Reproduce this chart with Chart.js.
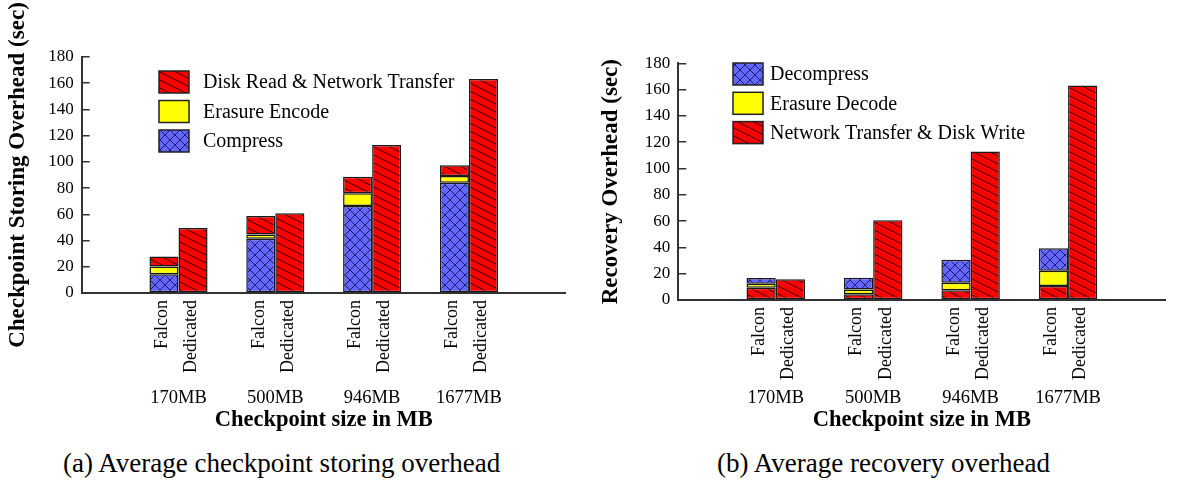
<!DOCTYPE html>
<html>
<head>
<meta charset="utf-8">
<script src="https://cdn.jsdelivr.net/npm/chart.js@4.4.1/dist/chart.umd.min.js"></script>
<style>
  body { margin: 0; background: #fff; width: 1181px; height: 484px; position: relative; overflow: hidden; font-family: "Liberation Serif", serif; }
  #leftChart { position: absolute; left: 0; top: 0; }
  #rightChart { position: absolute; left: 590px; top: 0; }
  .caption { position: absolute; top: 447px; font-size: 27px; line-height: 32px; white-space: nowrap; color: #000; }
</style>
</head>
<body>
<canvas id="leftChart" width="590" height="445"></canvas>
<canvas id="rightChart" width="591" height="445"></canvas>
<div class="caption" style="left:63px">(a) Average checkpoint storing overhead</div>
<div class="caption" style="left:717px">(b) Average recovery overhead</div>
<script>
// categorias
const sizes = ['170MB', '500MB', '946MB', '1677MB'];
const systems = ['Falcon', 'Dedicated'];
const yMax = 180;
const yStep = 20;

// (a) storing overhead, seconds
const storeCompress = [14.3, 41.4, 66.4, 84.1];
const storeEncode = [6.0, 3.3, 9.6, 5.1];
const storeTransfer = [7.6, 14.0, 12.7, 8.2];
const storeDedicated = [49.6, 60.8, 112.9, 163.2];

// (b) recovery overhead, seconds
const recTransfer = [9.4, 4.3, 7.4, 10.7];
const recDecode = [3.0, 3.6, 5.8, 11.6];
const recDecompress = [4.4, 9.1, 17.5, 17.1];
const recDedicated = [15.7, 60.7, 112.9, 163.2];

const FONT = '"Liberation Serif", "Times New Roman", serif';
Chart.defaults.font.family = FONT;
Chart.defaults.color = '#000';

// padrões de preenchimento (estilo gnuplot)
function redHatch() {
    const c = document.createElement('canvas');
    c.width = 16; c.height = 8;
    const g = c.getContext('2d');
    g.fillStyle = '#ff0000';
    g.fillRect(0, 0, 16, 8);
    g.strokeStyle = '#300000';
    g.lineWidth = 1;
    g.beginPath();
    for (const k of [-8, 0, 8]) {
        g.moveTo(-2, -1 + k);
        g.lineTo(18, 9 + k);
    }
    g.stroke();
    return g.createPattern(c, 'repeat');
}

function blueCross() {
    const c = document.createElement('canvas');
    c.width = 10; c.height = 10;
    const g = c.getContext('2d');
    g.fillStyle = '#6565ff';
    g.fillRect(0, 0, 10, 10);
    g.strokeStyle = '#1c1c70';
    g.lineWidth = 1;
    g.beginPath();
    g.moveTo(-1, -1); g.lineTo(11, 11);
    g.moveTo(11, -1); g.lineTo(-1, 11);
    g.stroke();
    return g.createPattern(c, 'repeat');
}

const RED = redHatch();
const BLUE = blueCross();
const YELLOW = '#ffff00';

function pts(values) {
    return values.map((v, i) => ({ x: i + 1, y: v }));
}

function barSet(label, values, fill, stack) {
    return {
        label: label,
        data: pts(values),
        backgroundColor: fill,
        borderColor: '#1a1a1a',
        borderWidth: 1.5,
        borderSkipped: false,
        stack: stack,
        categoryPercentage: 0.6,
        barPercentage: 1.0
    };
}

// legenda dentro da área do gráfico
const boxLegend = {
    id: 'boxLegend',
    afterDraw(chart, args, opts) {
        const ctx = chart.ctx;
        ctx.save();
        ctx.font = '20px ' + FONT;
        ctx.textBaseline = 'middle';
        const items = chart.data.datasets.filter(d => d.stack === 'Falcon').reverse();
        items.forEach((d, i) => {
            const y = opts.y + i * opts.step;
            ctx.fillStyle = d.backgroundColor;
            ctx.fillRect(opts.x, y, 30, 22);
            ctx.strokeStyle = '#222';
            ctx.lineWidth = 1.5;
            ctx.strokeRect(opts.x, y, 30, 22);
            ctx.fillStyle = '#000';
            ctx.fillText(d.label, opts.x + opts.gap, y + 12);
        });
        ctx.restore();
    }
};

// nomes verticais debaixo de cada barra
const barNames = {
    id: 'barNames',
    afterDraw(chart) {
        const ctx = chart.ctx;
        const base = chart.scales.x.top + 7;
        ctx.save();
        ctx.font = '18px ' + FONT;
        ctx.fillStyle = '#000';
        ctx.textAlign = 'right';
        ctx.textBaseline = 'middle';
        systems.forEach(name => {
            const idx = chart.data.datasets.findIndex(d => d.stack === name);
            chart.getDatasetMeta(idx).data.forEach(bar => {
                ctx.save();
                ctx.translate(bar.x - 2, base);
                ctx.rotate(-Math.PI / 2);
                ctx.fillText(name, 0, 0);
                ctx.restore();
            });
        });
        ctx.restore();
    }
};

function makeChart(id, datasets, yTitle, L) {
    return new Chart(document.getElementById(id), {
        type: 'bar',
        data: { datasets: datasets },
        plugins: [boxLegend, barNames],
        options: {
            responsive: false,
            animation: false,
            devicePixelRatio: 1,
            layout: { padding: { top: L.top, right: L.right, left: 0, bottom: 0 } },
            scales: {
                x: {
                    type: 'linear',
                    min: 0,
                    max: 5,
                    offset: false,
                    stacked: true,
                    afterBuildTicks: s => { s.ticks = sizes.map((_, i) => ({ value: i + 1 })); },
                    afterFit: s => { s.height = L.xHeight; },
                    grid: { display: false },
                    border: { display: true, color: '#333', width: 2 },
                    ticks: {
                        callback: v => sizes[v - 1],
                        padding: L.labelPad,
                        autoSkip: false,
                        maxRotation: 0,
                        font: { size: 18.5 },
                        color: '#000'
                    },
                    title: {
                        display: true,
                        text: 'Checkpoint size in MB',
                        font: { size: 22.5, weight: 'bold' },
                        color: '#000',
                        padding: { top: 0, bottom: 11 }
                    }
                },
                y: {
                    min: 0,
                    max: yMax,
                    stacked: true,
                    afterFit: s => { s.width = L.yWidth; },
                    grid: { drawOnChartArea: false, tickLength: -8, color: '#333', lineWidth: 1.5 },
                    border: { display: true, color: '#333', width: 2 },
                    ticks: { stepSize: yStep, padding: 16, font: { size: 17 }, color: '#000' },
                    title: {
                        display: true,
                        text: yTitle,
                        font: { size: 23, weight: 'bold' },
                        color: '#000',
                        padding: { top: L.titlePad, bottom: 0 }
                    }
                }
            },
            plugins: {
                legend: { display: false },
                tooltip: { enabled: false },
                boxLegend: L.legend
            }
        }
    });
}

makeChart('leftChart', [
    barSet('Compress', storeCompress, BLUE, 'Falcon'),
    barSet('Erasure Encode', storeEncode, YELLOW, 'Falcon'),
    barSet('Disk Read & Network Transfer', storeTransfer, RED, 'Falcon'),
    barSet('', storeDedicated, RED, 'Dedicated')
], 'Checkpoint Storing Overhead (sec)', {
    top: 57, right: 8.3, yWidth: 81.7, xHeight: 152, labelPad: 86.5, titlePad: 4,
    legend: { x: 159, y: 71, step: 29.5, gap: 44 }
});

makeChart('rightChart', [
    barSet('Network Transfer & Disk Write', recTransfer, RED, 'Falcon'),
    barSet('Erasure Decode', recDecode, YELLOW, 'Falcon'),
    barSet('Decompress', recDecompress, BLUE, 'Falcon'),
    barSet('', recDedicated, RED, 'Dedicated')
], 'Recovery Overhead (sec)', {
    top: 63.3, right: 2.7, yWidth: 88.3, xHeight: 145, labelPad: 79.5, titlePad: 7,
    legend: { x: 143, y: 63, step: 29.3, gap: 37 }
});
</script>
</body>
</html>
